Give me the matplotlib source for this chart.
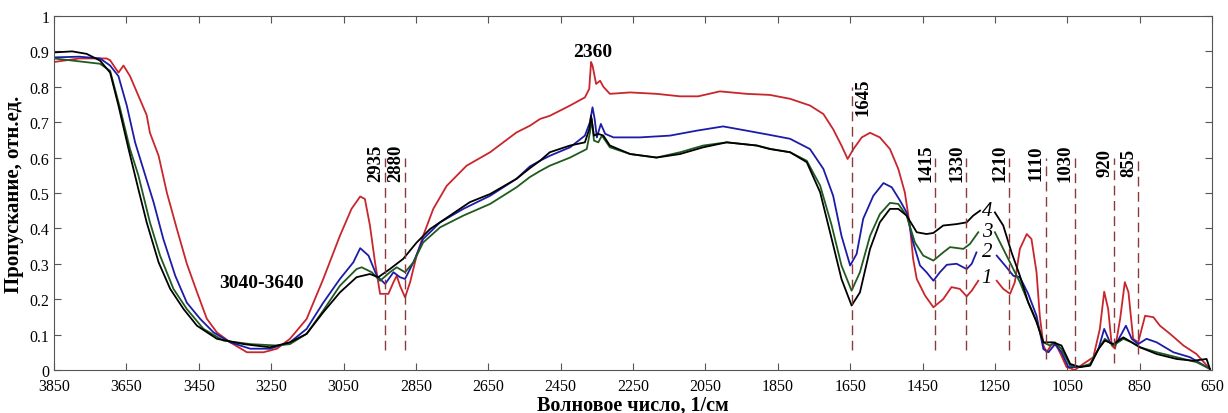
import matplotlib
matplotlib.use('Agg')
import matplotlib.pyplot as plt
import numpy as np

plt.rcParams['font.family'] = ['Liberation Serif', 'DejaVu Serif']

nan = np.nan

# curve 1 (red)
wn_1 = [3850, 3780, 3705, 3695, 3672, 3658, 3640, 3617, 3594, 3585, 3561, 3538, 3511, 3483, 3455, 3428,
        3400, 3363, 3317, 3271, 3234, 3198, 3152, 3106, 3060, 3028, 3004, 2991, 2977, 2963, 2949, 2926,
        2912, 2903, 2894, 2880, 2866, 2848, 2830, 2802, 2765, 2710, 2645, 2572, 2535, 2507, 2480, 2424,
        2383, 2371, 2366, 2362, 2352, 2341, 2332, 2314, 2258, 2185, 2120, 2070, 2010, 1936, 1872, 1816,
        1761, 1724, 1697, 1674, 1657, 1641, 1618, 1595, 1568, 1540, 1517, 1499, 1485, 1476, 1466, 1443,
        1420, 1393, 1370, 1347, 1328, 1314, 1296, 1270, 1245, 1227, 1208, 1195, 1181, 1162, 1149, 1135,
        1126, 1116, 1107, 1093, 1080, 1066, 1052, 1029, 1006, 978, 960, 948, 937, 927, 918, 904,
        891, 881, 868, 854, 835, 812, 794, 766, 729, 693, 656]
t_1 = [0.87, 0.88, 0.88, 0.875, 0.84, 0.86, 0.83, 0.775, 0.72, 0.67, 0.605, 0.50, 0.40, 0.30, 0.22, 0.145,
       0.106, 0.078, 0.05, 0.05, 0.06, 0.088, 0.144, 0.257, 0.379, 0.455, 0.49, 0.483, 0.408, 0.304, 0.215, 0.215,
       0.248, 0.266, 0.238, 0.205, 0.248, 0.323, 0.379, 0.455, 0.52, 0.577, 0.615, 0.671, 0.69, 0.709, 0.718, 0.747,
       0.77, 0.794, 0.87, 0.86, 0.808, 0.817, 0.80, 0.78, 0.784, 0.78, 0.773, 0.773, 0.787, 0.78, 0.777, 0.766,
       0.747, 0.723, 0.68, 0.634, 0.596, 0.624, 0.657, 0.67, 0.657, 0.624, 0.568, 0.502, 0.408, 0.314, 0.257, 0.21,
       0.177, 0.20, 0.234, 0.229, 0.208, 0.224, 0.252, nan, 0.252, 0.229, 0.215, 0.248, 0.342, 0.384, 0.37, 0.276,
       0.153, 0.069, 0.05, 0.073, 0.069, 0.04, 0.008, 0.0, 0.017, 0.036, 0.116, 0.221, 0.172, 0.069, 0.06, 0.144,
       0.248, 0.22, 0.088, 0.078, 0.153, 0.149, 0.125, 0.102, 0.069, 0.045, 0.003]

# curve 2 (blue)
wn_2 = [3850, 3780, 3723, 3695, 3672, 3649, 3626, 3598, 3575, 3548, 3515, 3483, 3446, 3409, 3363, 3308,
        3253, 3198, 3152, 3106, 3060, 3023, 3004, 2981, 2958, 2935, 2912, 2894, 2880, 2857, 2830, 2783,
        2719, 2645, 2572, 2535, 2507, 2480, 2424, 2383, 2369, 2362, 2356, 2350, 2339, 2327, 2304, 2231,
        2148, 2074, 2001, 1936, 1872, 1816, 1761, 1724, 1697, 1674, 1650, 1632, 1614, 1586, 1558, 1535,
        1512, 1494, 1476, 1457, 1439, 1420, 1402, 1383, 1356, 1328, 1314, 1301, 1275, 1245, 1222, 1199,
        1181, 1158, 1135, 1116, 1102, 1084, 1066, 1047, 1024, 987, 964, 948, 932, 918, 900, 888,
        872, 854, 831, 803, 757, 711, 656]
t_2 = [0.883, 0.885, 0.88, 0.86, 0.83, 0.747, 0.643, 0.55, 0.474, 0.37, 0.266, 0.19, 0.144, 0.106, 0.078, 0.06,
       0.06, 0.078, 0.116, 0.19, 0.257, 0.304, 0.344, 0.323, 0.266, 0.243, 0.276, 0.262, 0.257, 0.304, 0.37, 0.417,
       0.455, 0.492, 0.54, 0.575, 0.591, 0.605, 0.629, 0.662, 0.70, 0.742, 0.709, 0.657, 0.695, 0.667, 0.657, 0.657,
       0.662, 0.676, 0.688, 0.676, 0.664, 0.653, 0.624, 0.568, 0.492, 0.379, 0.295, 0.328, 0.427, 0.492, 0.528, 0.516,
       0.478, 0.445, 0.36, 0.295, 0.276, 0.252, 0.276, 0.297, 0.30, 0.285, 0.30, 0.332, nan, 0.323, 0.295, 0.266,
       0.262, 0.215, 0.153, 0.059, 0.05, 0.073, 0.05, 0.008, 0.008, 0.014, 0.059, 0.116, 0.078, 0.069, 0.102, 0.125,
       0.088, 0.073, 0.088, 0.078, 0.05, 0.036, 0.003]

# curve 3 (green)
wn_3 = [3850, 3723, 3695, 3667, 3640, 3617, 3585, 3557, 3520, 3483, 3437, 3382, 3308, 3234, 3198, 3152,
        3106, 3060, 3014, 3000, 2972, 2949, 2922, 2903, 2880, 2857, 2830, 2783, 2719, 2645, 2572, 2535,
        2507, 2480, 2424, 2378, 2369, 2364, 2358, 2346, 2336, 2314, 2258, 2185, 2120, 2056, 1991, 1908,
        1872, 1816, 1770, 1733, 1701, 1674, 1646, 1623, 1595, 1568, 1540, 1517, 1494, 1471, 1448, 1420,
        1393, 1374, 1337, 1319, 1296, 1272, 1250, 1227, 1204, 1181, 1158, 1135, 1116, 1098, 1084, 1066,
        1042, 1015, 987, 964, 946, 923, 895, 872, 849, 803, 748, 693, 656]
t_3 = [0.88, 0.865, 0.845, 0.737, 0.624, 0.55, 0.417, 0.323, 0.229, 0.172, 0.116, 0.083, 0.073, 0.069, 0.073, 0.102,
       0.168, 0.238, 0.285, 0.29, 0.276, 0.252, 0.276, 0.29, 0.276, 0.304, 0.36, 0.403, 0.436, 0.469, 0.516, 0.545,
       0.562, 0.577, 0.60, 0.624, 0.671, 0.709, 0.648, 0.643, 0.662, 0.629, 0.61, 0.60, 0.615, 0.634, 0.643, 0.634,
       0.625, 0.615, 0.591, 0.521, 0.408, 0.295, 0.224, 0.276, 0.379, 0.44, 0.472, 0.469, 0.436, 0.36, 0.323, 0.309,
       0.332, 0.347, 0.342, 0.356, 0.389, nan, 0.389, 0.342, 0.295, 0.248, 0.191, 0.139, 0.078, 0.069, 0.078, 0.059,
       0.012, 0.008, 0.017, 0.059, 0.088, 0.069, 0.088, 0.078, 0.064, 0.05, 0.036, 0.022, 0.003]

# curve 4 (black)
wn_4 = [3850, 3800, 3760, 3723, 3695, 3672, 3644, 3617, 3594, 3561, 3529, 3492, 3455, 3400, 3326, 3253,
        3198, 3152, 3106, 3060, 3014, 2977, 2954, 2922, 2885, 2848, 2811, 2756, 2701, 2645, 2572, 2535,
        2507, 2480, 2424, 2383, 2371, 2366, 2358, 2346, 2332, 2314, 2258, 2185, 2120, 2056, 1991, 1908,
        1872, 1816, 1770, 1733, 1701, 1674, 1646, 1623, 1595, 1568, 1540, 1517, 1494, 1466, 1439, 1420,
        1393, 1356, 1328, 1310, 1291, 1270, 1250, 1227, 1204, 1181, 1158, 1135, 1116, 1089, 1066, 1042,
        1015, 987, 964, 946, 923, 895, 872, 849, 803, 748, 702, 665, 656]
t_4 = [0.897, 0.90, 0.893, 0.874, 0.84, 0.747, 0.624, 0.511, 0.417, 0.304, 0.229, 0.172, 0.125, 0.088, 0.073, 0.064,
       0.078, 0.102, 0.163, 0.219, 0.262, 0.271, 0.262, 0.285, 0.314, 0.36, 0.398, 0.436, 0.474, 0.497, 0.54, 0.57,
       0.591, 0.615, 0.634, 0.643, 0.68, 0.718, 0.662, 0.667, 0.662, 0.634, 0.61, 0.60, 0.61, 0.629, 0.643, 0.634,
       0.624, 0.615, 0.587, 0.502, 0.37, 0.257, 0.182, 0.219, 0.342, 0.417, 0.455, 0.455, 0.436, 0.389, 0.384, 0.387,
       0.408, 0.412, 0.417, 0.436, 0.45, nan, 0.445, 0.408, 0.332, 0.266, 0.191, 0.135, 0.078, 0.078, 0.069, 0.017,
       0.008, 0.012, 0.059, 0.083, 0.073, 0.092, 0.078, 0.064, 0.045, 0.031, 0.026, 0.031, 0.003]

# marked bands: position, top of dashed line, bottom of dashed line
band_pos = [2935, 2880, 1645, 1415, 1330, 1210, 1110, 1030, 920, 855]
band_top = [0.60, 0.60, 0.80, 0.60, 0.60, 0.60, 0.60, 0.60, 0.60, 0.60]
band_bot = [0.055, 0.055, 0.055, 0.055, 0.055, 0.055, 0.03, 0.01, 0.02, 0.045]
band_lbl = ['2935', '2880', '1645', '1415', '1330', '1210', '1110', '1030', '920', '855']

curve_lbl = ['1', '2', '3', '4']
curve_lbl_y = [0.26, 0.336, 0.39, 0.45]

xticks = [3850, 3650, 3450, 3250, 3050, 2850, 2650, 2450, 2250, 2050, 1850, 1650, 1450, 1250, 1050, 850, 650]
yticks = [0, 0.1, 0.2, 0.3, 0.4, 0.5, 0.6, 0.7, 0.8, 0.9, 1]
ytick_lbl = ['0', '0.1', '0.2', '0.3', '0.4', '0.5', '0.6', '0.7', '0.8', '0.9', '1']

colors = ['#c8262c', '#1c1ca8', '#1f5a1f', '#000000']

fig = plt.figure(figsize=(12.28, 4.14), dpi=100)
ax = fig.add_axes([0.044, 0.104, 0.943, 0.855])

for wn, t, c in zip([wn_1, wn_2, wn_3, wn_4], [t_1, t_2, t_3, t_4], colors):
    ax.plot(wn, t, color=c, linewidth=1.3)

# dashed markers
for x, top, bot, lbl in zip(band_pos, band_top, band_bot, band_lbl):
    ax.plot([x, x], [bot, top], color='#8b3a3a', linewidth=1.0, dashes=(7, 4))
    if x == 1645:
        ax.text(x - 30, 0.774, lbl, rotation=90, ha='center', va='center', fontsize=13.5, fontweight='bold')
    else:
        ax.text(x + 26, 0.587, lbl, rotation=90, ha='center', va='center', fontsize=13.5, fontweight='bold')

ax.text(2361, 0.899, '2360', ha='center', va='center', fontsize=14, fontweight='bold')
ax.text(3276, 0.248, '3040-3640', ha='center', va='center', fontsize=14, fontweight='bold')

for lbl, y in zip(curve_lbl, curve_lbl_y):
    ax.text(1272, y, lbl, ha='center', va='center', fontsize=15, style='italic')

ax.set_xlim(3850, 650)
ax.set_ylim(0, 1)
ax.set_xticks(xticks)
ax.set_yticks(yticks)
ax.set_yticklabels(ytick_lbl)
ax.tick_params(direction='in', top=True, right=True, labelsize=11.5, length=5, color='#555555')
ax.tick_params(axis='x', pad=6)
for s in ax.spines.values():
    s.set_color('#555555')

ax.set_xlabel('Волновое число, 1/см', fontsize=14.5, fontweight='bold', labelpad=0)
ax.set_ylabel('Пропускание, отн.ед.', fontsize=15, fontweight='bold', labelpad=4)

plt.savefig('out.png', dpi=100)
